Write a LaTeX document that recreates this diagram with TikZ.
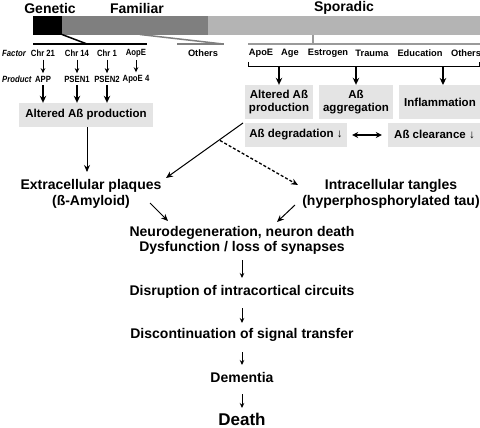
\documentclass[tikz,border=0pt]{standalone}
\usepackage{fontspec}
\setmainfont{Liberation Sans}
\newfontfamily\narrowfont{Liberation Sans}[FakeStretch=0.86]
\usetikzlibrary{arrows.meta}
\definecolor{bardark}{HTML}{7F7F7F}
\definecolor{barlight}{HTML}{B4B4B4}
\definecolor{boxgray}{HTML}{E4E4E4}
\definecolor{brgray}{HTML}{9A9A9A}
\begin{document}
\begin{tikzpicture}[x=1pt,y=-1pt,
  hdr/.style={font=\fontsize{14}{16}\selectfont\bfseries, inner sep=0pt},
  maintxt/.style={font=\fontsize{14}{16}\selectfont\bfseries, align=center, inner sep=1pt},
  smalltxt/.style={font=\narrowfont\fontsize{9}{10}\selectfont\bfseries, inner sep=0pt},
  lbltxt/.style={font=\narrowfont\fontsize{9}{10}\selectfont\bfseries\itshape, anchor=west, inner sep=0pt},
  sptxt/.style={font=\fontsize{9.3}{10}\selectfont\bfseries, inner sep=0pt},
  gbox/.style={fill=boxgray, font=\fontsize{11.5}{13}\selectfont\bfseries, align=center, inner sep=0pt},
  thinarr/.style={line width=0.8pt, -{Stealth[length=5pt,width=4.5pt]}},
  thickarr/.style={line width=1.4pt, -{Stealth[length=7pt,width=6.5pt]}},
  midarr/.style={line width=1pt, -{Stealth[length=7pt,width=6pt]}},
]
\useasboundingbox (0,0) rectangle (480,428);
% headers
\node[hdr] (hgen) at (50,8) {Genetic};
\node[hdr] (hfam) at (137,8) {Familiar};
\node[hdr] (hspo) at (344,8) {Sporadic};
% bar
\fill[barlight] (208,16) rectangle (480,35);
\fill[bardark] (62,16) rectangle (208,35);
\fill[black] (33,16) rectangle (62,35);
% funnels
\draw[line width=1.5pt] (62,34.5) -- (87,44);
\draw[line width=2pt] (33,44) -- (147,44);
\draw[bardark, line width=1.5pt] (140,34.5) -- (223,44);
\draw[bardark, line width=2pt] (177,44) -- (224,44);
\draw[brgray, line width=1.5pt] (248,44) -- (480,44);
\draw[brgray, line width=1.5pt] (313,35) -- (313,44);
% genetic factors
\node[lbltxt] (lfac) at (2,53) {Factor};
\node[lbltxt] (lprod) at (2,79) {Product};
\node[smalltxt] (chr21) at (43,53) {Chr 21};
\node[smalltxt] (chr14) at (77,53) {Chr 14};
\node[smalltxt] (chr1) at (107,53) {Chr 1};
\node[smalltxt] (aope) at (136,53) {AopE};
\node[smalltxt] (app) at (43,79) {APP};
\node[smalltxt] (psen1) at (77,79) {PSEN1};
\node[smalltxt] (psen2) at (107,79) {PSEN2};
\node[smalltxt] (apoe4) at (136,79) {ApoE 4};
\node[sptxt] (oth1) at (203,53) {Others};
\foreach \a/\b in {chr21/app, chr14/psen1, chr1/psen2, aope/apoe4}
  \draw[thinarr, shorten <=3pt, shorten >=2.5pt] (\a.south) -- (\b.north);
\node[gbox, minimum width=134pt, minimum height=24pt] (lbox) at (86,115) {Altered Aß production};
\foreach \a in {app, psen1, psen2}
  \draw[thickarr, shorten <=3pt] (\a.south) -- (\a.south |- lbox.north);
% sporadic factors
\node[sptxt] (sapoe) at (261,53) {ApoE};
\node[sptxt] (sage) at (290,53) {Age};
\node[sptxt] (sest) at (328,53) {Estrogen};
\node[sptxt] (stra) at (372,53) {Trauma};
\node[sptxt] (sedu) at (420,53) {Education};
\node[sptxt] (soth) at (466,53) {Others};
\coordinate (brL) at (248,67);
\coordinate (brR) at (479,67);
\draw[line width=1pt] (248,62) -- (brL) -- (brR) -- (479,62);
\node[gbox, minimum width=68pt, minimum height=34pt] (spalt) at (279,102) {Altered Aß\\production};
\node[gbox, minimum width=74pt, minimum height=34pt] (sagg) at (356,102) {Aß\\aggregation};
\node[gbox, minimum width=82pt, minimum height=34pt] (sinf) at (440,102) {Inflammation};
\node[gbox, minimum width=102pt, minimum height=24pt] (sdeg) at (296,135) {Aß degradation ↓};
\node[gbox, minimum width=93pt, minimum height=24pt] (scle) at (434.5,135) {Aß clearance ↓};
\coordinate (infTop) at (443,85);
\draw[thickarr] (spalt.north |- brL) -- (spalt.north);
\draw[thickarr] (sagg.north |- brL) -- (sagg.north);
\draw[thickarr] (infTop |- brL) -- (infTop);
\draw[line width=1.4pt, {Stealth[length=6pt,width=6pt]}-{Stealth[length=6pt,width=6pt]}] ([xshift=5pt]sdeg.east) -- ([xshift=-6pt]scle.west);
% main chain
\node[maintxt] (plaq) at (91,194) {Extracellular plaques\\(ß-Amyloid)};
\node[maintxt] (tang) at (391,194) {Intracellular tangles\\(hyperphosphorylated tau)};
\node[maintxt, font=\fontsize{14}{15.5}\selectfont\bfseries] (neuro) at (242,240.5) {Neurodegeneration, neuron death\\Dysfunction / loss of synapses};
\node[maintxt] (disr) at (242,292) {Disruption of intracortical circuits};
\node[maintxt] (disc) at (242,335) {Discontinuation of signal transfer};
\node[maintxt] (deme) at (242,377) {Dementia};
\node[maintxt, font=\fontsize{17}{19}\selectfont\bfseries] (death) at (242,419) {Death};
\draw[midarr] (lbox.south -| 87,0) -- (87,172);
\coordinate (sStart) at (243,123);
\coordinate (plaqNE) at (166,178);
\coordinate (dStart) at (220,140.5);
\coordinate (tangNW) at (298,185);
\draw[midarr] (sStart) -- (plaqNE);
\draw[midarr, line width=1.3pt, dash pattern=on 3pt off 2pt] (dStart) -- (tangNW);
\coordinate (p1) at (150,203);
\coordinate (p2) at (168,221);
\coordinate (t1) at (295,205);
\coordinate (t2) at (277,222);
\draw[midarr] (p1) -- (p2);
\draw[midarr] (t1) -- (t2);
\draw[thinarr, line width=1pt] (neuro.south |- 0,260) -- (neuro.south |- 0,278);
\draw[thinarr, line width=1pt] (disr.south |- 0,308) -- (disr.south |- 0,323);
\draw[thinarr, line width=1pt] (disc.south |- 0,352) -- (disc.south |- 0,365);
\draw[thinarr, line width=1pt] (deme.south |- 0,394) -- (deme.south |- 0,408);
\end{tikzpicture}
\end{document}
